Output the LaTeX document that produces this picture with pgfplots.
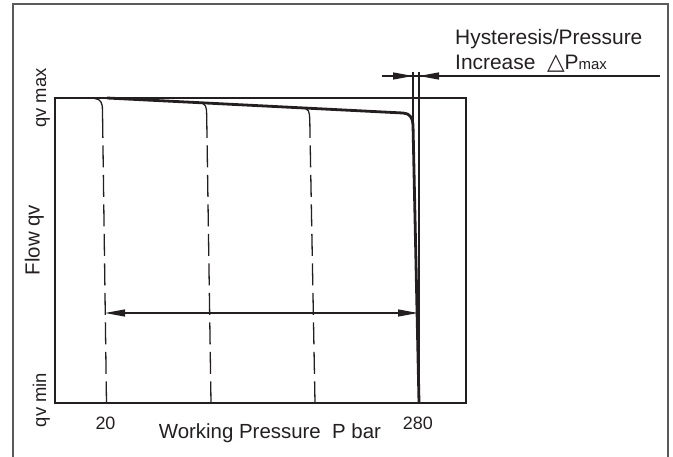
\documentclass[border=0pt]{standalone}
\usepackage{pgfplots}
\pgfplotsset{compat=1.18}
\usetikzlibrary{arrows.meta}
\usepackage{fontspec}
\setmainfont{Liberation Sans}
\newfontfamily\symfont{DejaVu Sans}
\definecolor{ink}{HTML}{231F20}
\definecolor{framegray}{HTML}{5A5A5A}

\begin{document}
\begin{tikzpicture}[x=1bp,y=1bp]
\useasboundingbox (0,0) rectangle (673,-457);
% outer frame (open at the bottom)
\draw[framegray, line width=1.5bp] (13,-457) -- (13,-4) -- (668,-4) -- (668,-457);

\begin{axis}[
    at={(55bp,-403bp)}, anchor=south west,
    scale only axis,
    width=411bp, height=305bp,
    xmin=-22, xmax=320,
    ymin=0, ymax=1,
    clip=false,
    axis line style={ink, line width=1.3bp},
    xtick={20,280},
    xticklabels={20,280},
    ytick=\empty,
    major tick length=0pt,
    xticklabel style={anchor=base, yshift=-26bp, font=\fontsize{18}{20}\selectfont, text=ink},
    xlabel={Working Pressure\ \ P bar},
    xlabel style={at={(rel axis cs:0.523,-0.1148)}, anchor=base, font=\fontsize{20.5}{24}\selectfont, text=ink},
    ylabel={Flow qv},
    ylabel style={at={(rel axis cs:-0.0377,0.534)}, anchor=base, font=\fontsize{20.5}{24}\selectfont, text=ink},
]

% main characteristic (thick)
\addplot[ink, line width=2.8bp, line join=round] coordinates {
(21.27,1) (267.58,0.9508) (271.33,0.9475) (273.82,0.9393)
(275.32,0.9279) (275.90,0.9115) (280.89,0)
};

% hysteresis curves: solid bend, then dashed
\addplot[ink, line width=1.3bp] coordinates {
(-1.2,1) (10.45,0.999) (14.20,0.995) (16.28,0.9869) (17.36,0.9738) (17.53,0.9541) (17.83,0.8689)
};
\addplot[ink, line width=1.3bp, dash pattern=on 22bp off 7.5bp] coordinates {
(17.91,0.8443) (20.85,0)
};

\addplot[ink, line width=1.3bp] coordinates {
(97.83,0.9846) (101.15,0.9820) (103.23,0.9738) (104.07,0.9607) (104.23,0.9410) (104.50,0.8689)
};
\addplot[ink, line width=1.3bp, dash pattern=on 22bp off 7.5bp] coordinates {
(104.60,0.8443) (107.81,0)
};

\addplot[ink, line width=1.3bp] coordinates {
(183.53,0.9675) (186.86,0.9646) (188.94,0.9574) (189.77,0.9443) (190.02,0.9246) (190.26,0.8689)
};
\addplot[ink, line width=1.3bp, dash pattern=on 22bp off 7.5bp] coordinates {
(190.37,0.8443) (194.35,0)
};

% working range arrow
\draw[ink, line width=1.2bp, {Triangle[length=20bp,width=7bp]}-{Triangle[length=20bp,width=7bp]}]
  (axis cs:19.61,0.2951) -- (axis cs:280.06,0.2951);

\node[rotate=90, anchor=base, font=\fontsize{18.5}{20}\selectfont, text=ink]
  at (rel axis cs:-0.0219,1.0) {qv max};
\node[rotate=90, anchor=base, font=\fontsize{18.5}{20}\selectfont, text=ink]
  at (rel axis cs:-0.0219,0.01) {qv min};
\end{axis}

% hysteresis annotation
\draw[ink, line width=1.2bp] (382,-76) -- (660,-76);
\draw[ink, line width=1.2bp, -{Triangle[length=20bp,width=7bp]}] (390,-76) -- (413,-76);
\draw[ink, line width=1.2bp, -{Triangle[length=20bp,width=7bp]}] (445,-76) -- (419,-76);
\draw[ink, line width=1.1bp] (413,-72) -- (413,-125);
\draw[ink, line width=1.1bp] (419,-72) -- (419,-403);

\node[anchor=base west, inner sep=0pt, font=\fontsize{21}{24}\selectfont, text=ink]
  at (455,-45) {Hysteresis/Pressure};
\node[anchor=base west, inner sep=0pt, font=\fontsize{21}{24}\selectfont, text=ink]
  at (455,-70) {Increase\ \ {\symfont\fontsize{23}{24}\selectfont △}P{\fontsize{15}{16}\selectfont max}};
\end{tikzpicture}
\end{document}
